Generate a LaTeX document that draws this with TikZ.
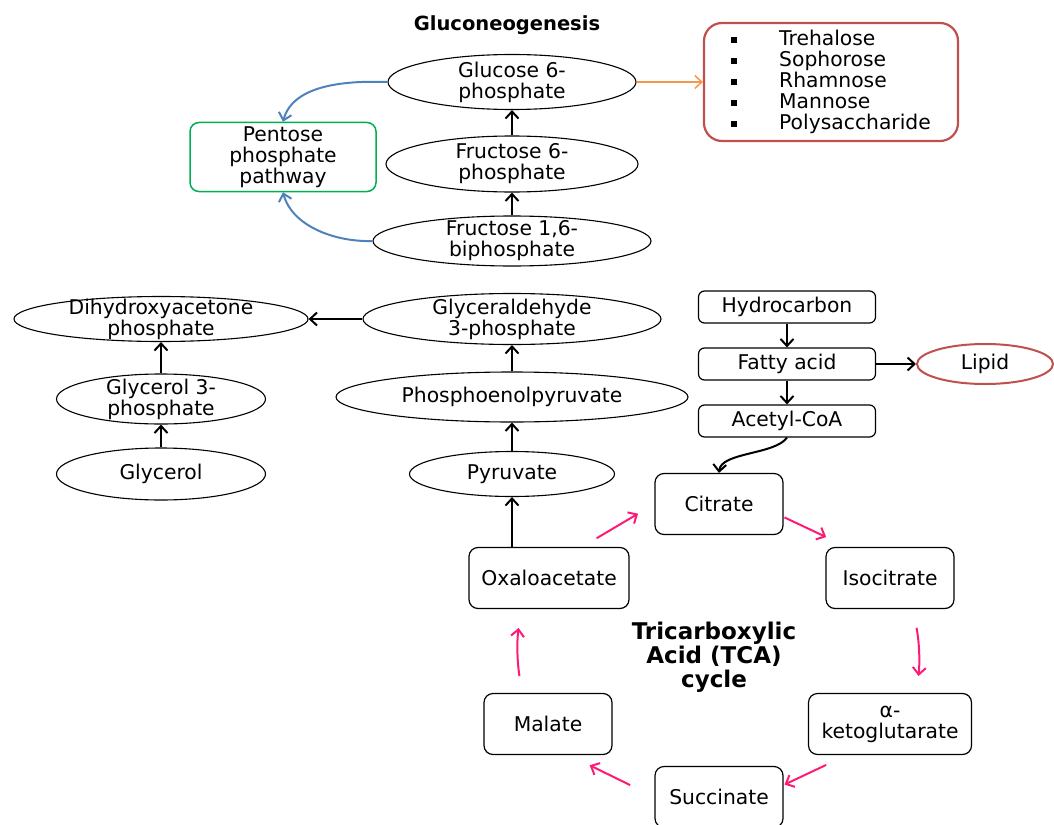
\documentclass[tikz,border=0pt]{standalone}
\usepackage{fontspec}
\setmainfont{DejaVu Sans}
\usetikzlibrary{shapes.geometric,arrows.meta,calc}
\definecolor{boxred}{HTML}{C0504D}
\definecolor{ppgreen}{HTML}{00B050}
\definecolor{ppblue}{HTML}{4F81BD}
\definecolor{sugorange}{HTML}{F79646}
\definecolor{tcapink}{HTML}{FF1A75}
\def\metab(#1,#2,#3,#4,#5,#6){
  \node[oval, minimum width=#4pt, minimum height=#5pt] (#1) at (#2,#3) {};
  \node[txt] (#1-t) at (#1) {#6};
}
\def\sqb{\raisebox{3pt}{\rule{6pt}{6pt}}\hspace{42pt}}

\begin{document}
\begin{tikzpicture}[x=1pt, y=-1pt, font=\fontsize{20.3}{21}\selectfont,
  oval/.style={draw, ellipse, inner sep=0pt, line width=1.1pt},
  txt/.style={align=center, inner sep=0pt},
  box/.style={draw, rounded corners=9pt, line width=1.2pt, align=center, inner sep=2pt},
  tcabox/.style={box, minimum width=128pt, minimum height=61pt},
  chain/.style={box, rounded corners=6pt, minimum width=177pt, minimum height=32pt},
  flow/.style={-{Straight Barb[length=7pt,width=13pt]}, line width=2pt},
  cyc/.style={flow, color=tcapink},
  heading/.style={font=\fontsize{23}{24}\selectfont\bfseries, align=center}]
\useasboundingbox (0,0) rectangle (1054,824);
\node[heading, font=\fontsize{19.5}{24}\selectfont\bfseries] (title) at (507,25) {Gluconeogenesis};
\metab(g6p,512,82,248,55,Glucose 6-\\phosphate)
\metab(f6p,512,164,252,56,Fructose 6-\\phosphate)
\metab(fbp,512,241,278,50,Fructose 1,6-\\biphosphate)
\node[box, draw=ppgreen, line width=1.5pt, minimum width=186pt, minimum height=69pt] (ppp) at (283,157) {Pentose\\phosphate\\pathway};
\node[box, draw=boxred, line width=2.2pt, rounded corners=18pt, minimum width=254pt, minimum height=118pt, align=left] (sug) at (831,82)
  {\sqb Trehalose\\\sqb Sophorose\\\sqb Rhamnose\\\sqb Mannose\\\sqb Polysaccharide};
\draw[flow] (f6p) -- (g6p);
\draw[flow] (fbp) -- (f6p);
\draw[flow, color=ppblue] (g6p.west) to[out=178, in=75, looseness=0.9] (ppp.north);
\draw[flow, color=ppblue] (fbp.west) to[out=182, in=-75, looseness=0.9] (ppp.south);
\draw[flow, line width=1.5pt, color=sugorange] (g6p.east) -- (sug.west);

\metab(dhap,161,319,294,45,Dihydroxyacetone\\phosphate)
\metab(gl3p,161,399,209,50,Glycerol 3-\\phosphate)
\metab(glyc,161,474,209,52,Glycerol)
\metab(ga3p,512,319,298,51,Glyceraldehyde\\3-phosphate)
\metab(pep,512,397,352,50,Phosphoenolpyruvate)
\metab(pyr,512,474,205,45,Pyruvate)
\draw[flow] (ga3p) -- (dhap);
\draw[flow] (gl3p) -- (dhap);
\draw[flow] (glyc) -- (gl3p);
\draw[flow] (pep) -- (ga3p);
\draw[flow] (pyr) -- (pep);

\node[chain] (hc) at (787,307) {Hydrocarbon};
\node[chain] (fa) at (787,364) {Fatty acid};
\node[chain] (acoa) at (787,421) {Acetyl-CoA};
\node[oval, draw=boxred, line width=2pt, minimum width=136pt, minimum height=40pt] (lip) at (985,364) {Lipid};
\draw[flow] (hc) -- (fa);
\draw[flow] (fa) -- (acoa);
\draw[flow] (fa) -- (lip);

\node[tcabox] (cit) at (719,504) {Citrate};
\node[tcabox] (iso) at (890,578) {Isocitrate};
\node[tcabox, minimum width=163pt] (akg) at (890,724) {α-\\ketoglutarate};
\node[tcabox] (suc) at (719,797) {Succinate};
\node[tcabox] (mal) at (548,724) {Malate};
\node[tcabox, minimum width=160pt] (oxa) at (549,578) {Oxaloacetate};
\node[heading] (tca) at (714,657) {Tricarboxylic\\Acid (TCA)\\cycle};
\draw[flow] (acoa.south) to[out=-125, in=85, looseness=0.7] (cit.north);
\draw[flow] (oxa.north -| pyr) -- (pyr);
\draw[cyc, shorten <=17pt, shorten >=19pt] ([xshift=33pt]oxa.north) -- (cit.west);
\draw[cyc, shorten <=1pt, shorten >=23pt] ([yshift=-13pt]cit.east) -- ([xshift=-43pt]iso.north);
\draw[cyc, shorten <=19pt, shorten >=17pt] ([xshift=23pt]iso.south) to[bend left=8] ([xshift=27pt]akg.north);
\draw[cyc, shorten <=23pt, shorten >=1pt] ([xshift=-43pt]akg.south) -- ([yshift=12pt]suc.east);
\draw[cyc, shorten <=27pt, shorten >=23pt] (suc.west) -- ([xshift=21pt]mal.south);
\draw[cyc, shorten <=17pt, shorten >=19pt] ([xshift=-26pt]mal.north) to[bend left=8] ([xshift=-28pt]oxa.south);
\end{tikzpicture}
\end{document}
